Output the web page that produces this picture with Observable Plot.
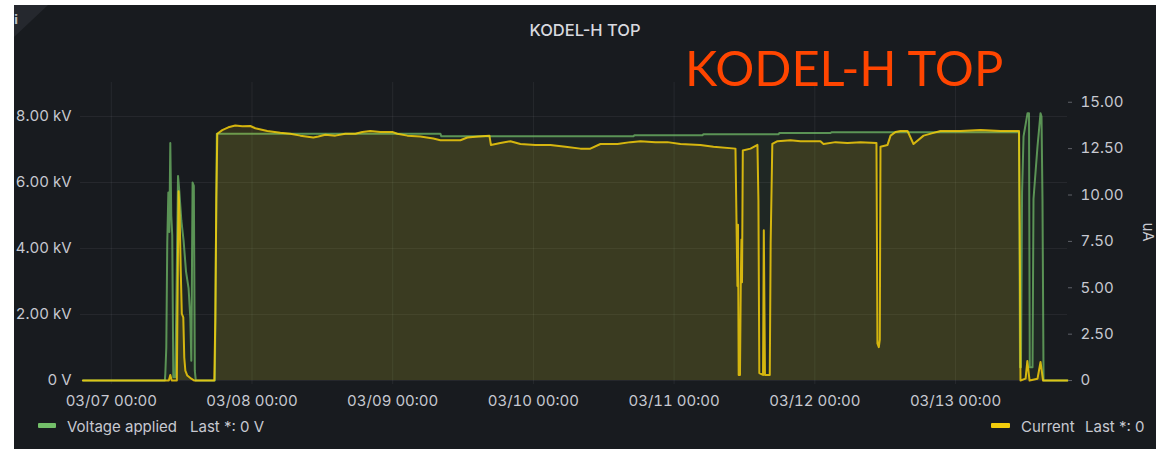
<!DOCTYPE html>
<html><head><meta charset="utf-8">
<script src="https://cdn.jsdelivr.net/npm/d3@7"></script>
<script src="https://cdn.jsdelivr.net/npm/@observablehq/plot@0.6"></script>
<style>
html,body{margin:0;padding:0;background:#fff;width:1156px;height:449px;overflow:hidden;}
#panel{position:absolute;left:14px;top:5px;width:1142px;height:444px;background:#181b1f;overflow:hidden;}
#chart{position:absolute;left:0;top:40px;}
#overlay{position:absolute;left:0;top:0;pointer-events:none;}
</style></head>
<body>
<div id="panel">
  <div id="chart"></div>
  <svg id="overlay" width="1142" height="444">
    <path d="M0,0 L34,0 L0,32 Z" fill="#25282e"/>
    <text x="0" y="19" fill="#b9bbc2" font-family="DejaVu Sans" font-weight="bold" font-size="12">i</text>
    <text x="571" y="31" text-anchor="middle" fill="#d8d9df" font-family="Inter" font-weight="500" font-size="16.5">KODEL-H TOP</text>
    <text x="671" y="81" fill="#ff4500" font-family="Lato" font-size="48.8">KODEL-H TOP</text>
    <text transform="translate(1134,227) rotate(90)" text-anchor="middle" dominant-baseline="central" fill="#c7c9d1" font-family="Inter" font-size="15">uA</text>
    <rect x="24" y="418" width="18" height="5" rx="1" fill="#73BF69"/>
    <text y="421" dominant-baseline="central" fill="#c7c9d1" font-family="Inter" font-size="15"><tspan x="53">Voltage applied</tspan><tspan x="176">Last *: 0 V</tspan></text>
    <rect x="977" y="418" width="19" height="5" rx="1" fill="#F2CC0C"/>
    <text y="421" dominant-baseline="central" fill="#c7c9d1" font-family="Inter" font-size="15"><tspan x="1007">Current</tspan><tspan x="1071">Last *: 0</tspan></text>
  </svg>
</div>
<script>
// ---- data ----
const YEAR = "2024-";
const xTickLabels = ["03-07 00:00","03-08 00:00","03-09 00:00","03-10 00:00","03-11 00:00","03-12 00:00","03-13 00:00"];
const voltTicksKV = [0, 2, 4, 6, 8];
const currTicksUA = [0, 2.5, 5, 7.5, 10, 12.5, 15];

const voltTimes = [
 "03-06 19:10","03-07 09:08","03-07 09:13","03-07 09:23","03-07 09:33","03-07 09:44","03-07 09:54","03-07 10:04","03-07 10:14","03-07 10:24",
 "03-07 10:35","03-07 10:55","03-07 11:05","03-07 11:23","03-07 11:36","03-07 11:57","03-07 12:20","03-07 12:45","03-07 13:11","03-07 13:29",
 "03-07 13:39","03-07 13:52","03-07 14:05","03-07 14:15","03-07 14:25","03-07 17:40","03-07 18:00","03-09 08:08","03-09 08:18","03-10 17:04",
 "03-10 17:14","03-11 04:50","03-11 05:00","03-11 17:47","03-11 17:58","03-12 02:40","03-12 02:50","03-13 10:50","03-13 11:00","03-13 11:10",
 "03-13 11:21","03-13 11:36","03-13 12:17","03-13 12:32","03-13 12:40","03-13 13:08","03-13 13:18","03-13 13:59","03-13 14:30","03-13 14:40",
 "03-13 14:50","03-13 15:01","03-13 19:06"];
const voltKV = [
 0,0,0.2,1.0,4.2,5.7,4.5,7.2,5.0,4.4,
 0.1,0.1,2.1,6.2,5.75,4.85,4.24,3.3,2.8,1.9,
 0.6,6.0,5.9,0.3,0,0,7.48,7.48,7.40,7.40,
 7.43,7.43,7.46,7.46,7.50,7.50,7.52,7.52,0.4,0.4,
 5.7,7.4,8.1,8.1,0.4,0.4,5.5,7.1,8.1,8.0,
 5.5,0,0];

const currTimes = [
 "03-06 19:10","03-07 09:49","03-07 10:04","03-07 10:19","03-07 11:11","03-07 11:21","03-07 11:29","03-07 11:41","03-07 11:51","03-07 12:02",
 "03-07 12:17","03-07 12:27","03-07 12:38","03-07 12:58","03-07 13:39","03-07 14:10","03-07 17:34","03-07 17:45","03-07 17:55","03-07 18:05",
 "03-07 18:56","03-07 19:58","03-07 21:09","03-07 22:21","03-07 23:43","03-08 00:34","03-08 02:37","03-08 04:50","03-08 06:32","03-08 08:15",
 "03-08 10:28","03-08 11:19","03-08 12:31","03-08 14:13","03-08 15:55","03-08 17:38","03-08 18:49","03-08 20:11","03-08 21:54","03-08 23:55",
 "03-09 00:48","03-09 02:30","03-09 04:43","03-09 06:56","03-09 08:08","03-09 11:33","03-09 12:44","03-09 14:37","03-09 16:30","03-09 16:45",
 "03-09 18:22","03-09 20:05","03-09 21:47","03-10 00:20","03-10 02:54","03-10 05:28","03-10 08:01","03-10 09:43","03-10 11:26","03-10 14:20",
 "03-10 16:33","03-10 18:16","03-10 20:49","03-10 22:52","03-11 01:05","03-11 04:29","03-11 06:43","03-11 10:28","03-11 10:38","03-11 10:48",
 "03-11 10:54","03-11 11:01","03-11 11:14","03-11 11:22","03-11 11:29","03-11 11:35","03-11 11:43","03-11 13:02","03-11 14:13","03-11 14:23",
 "03-11 14:32","03-11 15:10","03-11 15:18","03-11 15:30","03-11 16:19","03-11 16:28","03-11 16:45","03-11 17:38","03-11 19:51","03-11 21:33",
 "03-12 00:58","03-12 01:29","03-12 03:32","03-12 05:34","03-12 07:47","03-12 10:31","03-12 10:41","03-12 10:55","03-12 11:05","03-12 11:12",
 "03-12 12:24","03-12 12:55","03-12 13:46","03-12 14:37","03-12 15:49","03-12 16:50","03-12 18:33","03-12 20:15","03-12 21:26","03-13 00:51",
 "03-13 04:16","03-13 07:41","03-13 10:50","03-13 10:57","03-13 11:05","03-13 11:57","03-13 12:15","03-13 12:38","03-13 13:59","03-13 14:30",
 "03-13 14:56","03-13 19:06"];
const currUA = [
 0,0,0.3,0,0,6.0,10.2,8.6,5.9,3.6,
 3.4,1.24,0.54,0.27,0.1,0,0,3.4,9.8,13.3,
 13.5,13.65,13.75,13.7,13.72,13.6,13.45,13.35,13.3,13.2,
 13.1,13.15,13.25,13.2,13.3,13.3,13.4,13.45,13.4,13.4,
 13.3,13.2,13.15,13.05,12.95,12.95,13.1,13.15,13.2,12.7,
 12.8,12.9,12.75,12.7,12.7,12.6,12.5,12.5,12.75,12.75,
 12.85,12.9,12.85,12.85,12.75,12.7,12.6,12.5,8.8,5.1,
 8.4,0.3,0.3,5.1,7.6,5.3,12.4,12.5,12.7,9.7,
 0.4,0.3,8.1,0.3,0.3,7.4,12.75,12.9,12.95,12.9,
 12.9,12.75,12.85,12.8,12.85,12.8,2.0,1.8,2.2,12.6,
 12.7,13.2,13.4,13.45,13.45,12.75,13.2,13.35,13.45,13.45,
 13.5,13.45,13.45,8.5,0,0.1,1.05,0,0.1,1.0,
 0,0];

// ---- build ----
const parse = d3.utcParse("%Y-%m-%d %H:%M");
const P = s => parse(YEAR + s);
const voltData = voltTimes.map((t, i) => ({t: P(t), v: voltKV[i]}));
const K = 18.55 / 33.0; // kV-units per uA (right axis mapped onto left scale)
const currData = currTimes.map((t, i) => ({t: P(t), c: currUA[i] * K}));
const xTicks = xTickLabels.map(P);

const chart = Plot.plot({
  width: 1142, height: 370,
  marginTop: 37, marginBottom: 31, marginLeft: 66, marginRight: 89,
  style: {background: "transparent", color: "#c7c9d1", fontFamily: "Inter", fontSize: "15px"},
  x: {type: "utc", domain: [P("03-06 18:45"), P("03-13 19:06")]},
  y: {domain: [-0.12, 9.03]},
  marks: [
    Plot.gridX(xTicks, {stroke: "#ccccdc", strokeOpacity: 0.08}),
    Plot.gridY(voltTicksKV, {stroke: "#ccccdc", strokeOpacity: 0.08}),
    Plot.areaY(voltData, {x: "t", y: "v", fill: "#73BF69", fillOpacity: 0.08}),
    Plot.lineY(voltData, {x: "t", y: "v", stroke: "#73BF69", strokeOpacity: 0.72, strokeWidth: 2}),
    Plot.areaY(currData, {x: "t", y: "c", fill: "#F2CC0C", fillOpacity: 0.13}),
    Plot.lineY(currData, {x: "t", y: "c", stroke: "#F2CC0C", strokeOpacity: 0.85, strokeWidth: 2}),
    Plot.axisX(xTicks, {tickSize: 0, tickPadding: 11, tickFormat: d3.utcFormat("%m/%d %H:%M"), label: null}),
    Plot.axisY(voltTicksKV, {anchor: "left", tickSize: 0, tickPadding: 9, label: null,
      tickFormat: d => d === 0 ? "0 V" : d.toFixed(2) + " kV"}),
    Plot.axisY(currTicksUA.map(c => c * K), {anchor: "right", tickSize: 4, tickPadding: 9, label: null,
      stroke: "#5f6269", fill: "#c7c9d1",
      tickFormat: d => { const c = d / K; return Math.abs(c) < 1e-9 ? "0" : c.toFixed(2); }})
  ]
});
document.getElementById("chart").appendChild(chart);
</script>
</body></html>
